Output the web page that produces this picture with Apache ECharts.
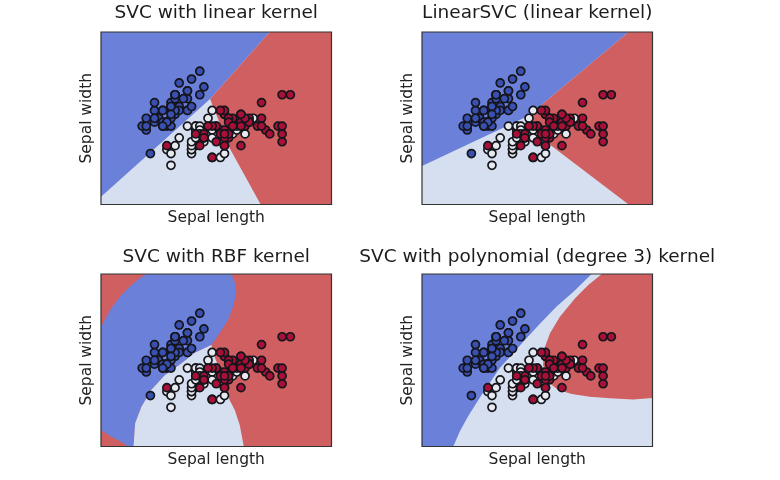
<!DOCTYPE html>
<html>
<head>
<meta charset="utf-8">
<style>html,body{margin:0;background:#fff}#chart{width:780px;height:480px}</style>
<script src="https://cdn.jsdelivr.net/npm/echarts@6/dist/echarts.min.js"></script>
</head>
<body>
<div id="chart"></div>
<script>
// iris points, in sepal length / sepal width
const setosaLength = [5.1,4.9,4.7,4.6,5.0,5.4,4.6,5.0,4.4,4.9,5.4,4.8,4.8,4.3,5.8,5.7,5.4,5.1,5.7,5.1,5.4,5.1,4.6,5.1,4.8,5.0,5.0,5.2,5.2,4.7,4.8,5.4,5.2,5.5,4.9,5.0,5.5,4.9,4.4,5.1,5.0,4.5,4.4,5.0,5.1,4.8,5.1,4.6,5.3,5.0];
const setosaWidth = [3.5,3.0,3.2,3.1,3.6,3.9,3.4,3.4,2.9,3.1,3.7,3.4,3.0,3.0,4.0,4.4,3.9,3.5,3.8,3.8,3.4,3.7,3.6,3.3,3.4,3.0,3.4,3.5,3.4,3.2,3.1,3.4,4.1,4.2,3.1,3.2,3.5,3.1,3.0,3.4,3.5,2.3,3.2,3.5,3.8,3.0,3.8,3.2,3.7,3.3];
const versicolorLength = [7.0,6.4,6.9,5.5,6.5,5.7,6.3,4.9,6.6,5.2,5.0,5.9,6.0,6.1,5.6,6.7,5.6,5.8,6.2,5.6,5.9,6.1,6.3,6.1,6.4,6.6,6.8,6.7,6.0,5.7,5.5,5.5,5.8,6.0,5.4,6.0,6.7,6.3,5.6,5.5,5.5,6.1,5.8,5.0,5.6,5.7,5.7,6.2,5.1,5.7];
const versicolorWidth = [3.2,3.2,3.1,2.3,2.8,2.8,3.3,2.4,2.9,2.7,2.0,3.0,2.2,2.9,2.9,3.1,3.0,2.7,2.2,2.5,3.2,2.8,2.5,2.8,2.9,3.0,2.8,3.0,2.9,2.6,2.4,2.4,2.7,2.7,3.0,3.4,3.1,2.3,3.0,2.5,2.6,3.0,2.6,2.3,2.7,3.0,2.9,2.9,2.5,2.8];
const virginicaLength = [6.3,5.8,7.1,6.3,6.5,7.6,4.9,7.3,6.7,7.2,6.5,6.4,6.8,5.7,5.8,6.4,6.5,7.7,7.7,6.0,6.9,5.6,7.7,6.3,6.7,7.2,6.2,6.1,6.4,7.2,7.4,7.9,6.4,6.3,6.1,7.7,6.3,6.4,6.0,6.9,6.7,6.9,5.8,6.8,6.7,6.7,6.3,6.5,6.2,5.9];
const virginicaWidth = [3.3,2.7,3.0,2.9,3.0,3.0,2.5,2.9,2.5,3.6,3.2,2.7,3.0,2.5,2.8,3.2,3.0,3.8,2.6,2.2,3.2,2.8,2.8,2.7,3.3,3.2,2.8,3.0,2.8,3.0,2.8,3.8,2.8,2.8,2.6,3.0,3.4,3.1,3.0,3.1,3.1,3.1,2.7,3.2,3.3,3.0,2.5,3.0,3.4,3.0];

// decision regions, boundary vertices
const wholePlot = [[3.3,5.4],[8.9,5.4],[8.9,1.0],[3.3,1.0]];
const linearBlue = [[3.3,5.4],[7.40,5.4],[5.95,3.69],[3.3,1.20]];
const linearRed = [[7.40,5.4],[8.9,5.4],[8.9,1.0],[7.18,1.0],[6.43,2.43],[5.95,3.69]];
const linearsvcBlue = [[3.3,5.4],[8.32,5.4],[5.88,3.26],[3.3,1.98]];
const linearsvcRed = [[8.32,5.4],[8.9,5.4],[8.9,1.0],[8.32,1.0],[6.45,2.49],[5.88,3.26]];
const rbfBlue = [[3.3,4.05],[3.55,4.53],[3.79,4.86],[4.04,5.12],[4.24,5.29],[4.40,5.4],[6.47,5.4],[6.56,5.16],[6.59,4.91],[6.51,4.57],[6.39,4.23],[6.18,3.89],[5.98,3.59],[5.58,3.39],[5.25,3.12],[4.85,2.82],[4.52,2.44],[4.28,2.01],[4.13,1.59],[4.09,1.0],[3.96,1.0],[3.79,1.12],[3.55,1.25],[3.3,1.42]];
const rbfLight = [[5.98,3.59],[6.07,3.26],[6.22,2.87],[6.34,2.36],[6.55,1.93],[6.67,1.55],[6.77,1.0],[4.09,1.0],[4.13,1.59],[4.28,2.01],[4.52,2.44],[4.85,2.82],[5.25,3.12],[5.58,3.39]];
const polyBlue = [[3.3,5.4],[7.42,5.4],[6.98,4.95],[6.57,4.57],[6.17,4.14],[5.76,3.67],[5.44,3.29],[5.19,3.0],[4.75,2.32],[4.42,1.77],[4.22,1.39],[4.06,1.0],[3.3,1.0]];
const polyRed = [[7.67,5.4],[8.9,5.4],[8.9,2.24],[8.43,2.20],[7.87,2.23],[7.38,2.27],[6.94,2.34],[6.61,2.44],[6.41,2.61],[6.24,3.08],[6.29,3.55],[6.41,3.89],[6.65,4.31],[7.02,4.78],[7.34,5.12]];

const titles = ['SVC with linear kernel', 'LinearSVC (linear kernel)', 'SVC with RBF kernel', 'SVC with polynomial (degree 3) kernel'];
const xName = 'Sepal length';
const yName = 'Sepal width';

const BLUE = '#6a80d9', LIGHT = '#d5dff0', RED = '#cf5f60';
const font = 'DejaVu Sans';

const panels = [
    { left: 101, top: 32, width: 230.5, height: 172.5, titleTop: 4, base: LIGHT, regions: [[linearBlue, BLUE], [linearRed, RED]] },
    { left: 422, top: 32, width: 230.5, height: 172.5, titleTop: 4, base: LIGHT, regions: [[linearsvcBlue, BLUE], [linearsvcRed, RED]] },
    { left: 101, top: 274, width: 230.5, height: 172.5, titleTop: 248, base: RED, regions: [[rbfBlue, BLUE], [rbfLight, LIGHT]] },
    { left: 422, top: 274, width: 230.5, height: 172.5, titleTop: 248, base: LIGHT, regions: [[polyBlue, BLUE], [polyRed, RED]] }
];

function regionSeries(idx, verts, color) {
    return {
        type: 'custom',
        xAxisIndex: idx,
        yAxisIndex: idx,
        z: 1,
        silent: true,
        clip: true,
        data: verts,
        renderItem: function (params, api) {
            if (params.dataIndex > 0) return null;
            return {
                type: 'polygon',
                shape: { points: verts.map(function (v) { return api.coord(v); }) },
                style: { fill: color }
            };
        }
    };
}

function pointSeries(idx, xs, ys, color) {
    return {
        type: 'scatter',
        xAxisIndex: idx,
        yAxisIndex: idx,
        z: 5,
        silent: true,
        symbolSize: 8,
        itemStyle: { color: color, opacity: 1, borderColor: '#15151c', borderWidth: 1.7 },
        data: xs.map(function (x, i) { return [x, ys[i]]; })
    };
}

const series = [];
panels.forEach(function (p, i) {
    series.push(regionSeries(i, wholePlot, p.base));
    p.regions.forEach(function (r) { series.push(regionSeries(i, r[0], r[1])); });
    series.push(pointSeries(i, setosaLength, setosaWidth, '#3a50b0'));
    series.push(pointSeries(i, versicolorLength, versicolorWidth, '#e6e9ee'));
    series.push(pointSeries(i, virginicaLength, virginicaWidth, '#a81038'));
});

const chart = echarts.init(document.getElementById('chart'));
chart.setOption({
    animation: false,
    backgroundColor: '#fff',
    title: panels.map(function (p, i) {
        return {
            text: titles[i],
            left: p.left + p.width / 2,
            top: p.titleTop,
            padding: 0,
            textAlign: 'center',
            textStyle: { fontFamily: font, fontSize: 18.5, fontWeight: 'normal', color: '#1c1c1c' }
        };
    }),
    grid: panels.map(function (p) {
        return { left: p.left, top: p.top, width: p.width, height: p.height, show: true, z: 3, backgroundColor: 'transparent', borderColor: '#333', borderWidth: 1.2 };
    }),
    xAxis: panels.map(function (p, i) {
        return {
            type: 'value', gridIndex: i, min: 3.3, max: 8.9,
            name: xName, nameLocation: 'middle', nameGap: 5,
            nameTextStyle: { fontFamily: font, fontSize: 15.5, color: '#222' },
            axisLine: { show: false }, axisTick: { show: false }, axisLabel: { show: false }, splitLine: { show: false }
        };
    }),
    yAxis: panels.map(function (p, i) {
        return {
            type: 'value', gridIndex: i, min: 1.0, max: 5.4,
            name: yName, nameLocation: 'middle', nameGap: 6,
            nameTextStyle: { fontFamily: font, fontSize: 15.5, color: '#222' },
            axisLine: { show: false }, axisTick: { show: false }, axisLabel: { show: false }, splitLine: { show: false }
        };
    }),
    series: series
});
</script>
</body>
</html>
